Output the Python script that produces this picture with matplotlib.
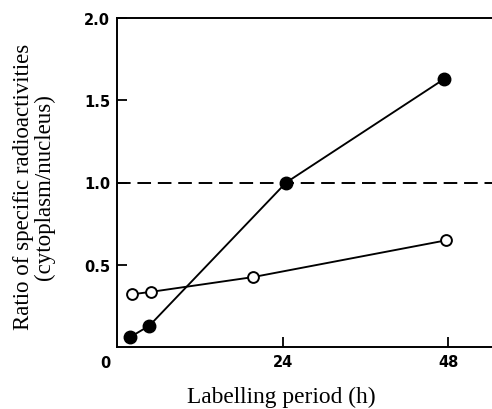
import matplotlib
matplotlib.use("Agg")
import matplotlib.pyplot as plt

# values
filled_hours = [1.9, 4.7, 24.5, 47.4]
filled_ratio = [0.06, 0.13, 1.00, 1.63]
open_hours = [2.1, 4.9, 19.7, 47.6]
open_ratio = [0.32, 0.335, 0.425, 0.648]

x_ticks = [24, 48]
y_ticks = [0.5, 1.0, 1.5, 2.0]
y_ticklabels = ["0.5", "1.0", "1.5", "2.0"]
ref_level = 1.0

fig = plt.figure(figsize=(4.92, 4.10), dpi=100)
ax = fig.add_axes([117 / 492, 62 / 410, 375 / 492, 329 / 410])

ax.axhline(ref_level, color="black", lw=1.4, ls=(0, (7, 3.5)), zorder=1)
ax.plot(open_hours, open_ratio, "-o", color="black", lw=1.35,
        markerfacecolor="white", markeredgecolor="black", markeredgewidth=1.4,
        markersize=7.8, zorder=3)
ax.plot(filled_hours, filled_ratio, "-o", color="black", lw=1.35,
        markersize=9, zorder=3)

ax.set_xlim(0, 54.3)
ax.set_ylim(0, 2.0)
ax.spines["right"].set_visible(False)
for s in ["left", "top", "bottom"]:
    ax.spines[s].set_linewidth(1.4)

ax.set_xticks(x_ticks)
ax.set_xticklabels([str(t) for t in x_ticks])
ax.set_yticks(y_ticks)
ax.set_yticklabels(y_ticklabels)
ax.tick_params(direction="in", length=7, width=1.3, pad=5,
               labelsize=10.5, right=False, top=False)
for lab in ax.get_xticklabels() + ax.get_yticklabels():
    lab.set_fontweight("bold")

ax.text(-0.032, -0.025, "0", transform=ax.transAxes, ha="center", va="top",
        fontsize=10.5, fontweight="bold")

fig.text(281 / 492, 1 - 397 / 410, "Labelling period (h)", ha="center",
         va="center", family="Liberation Serif", fontsize=16.8)
fig.text(34 / 492, 1 - 187 / 410,
         "Ratio of specific radioactivities\n(cytoplasm/nucleus)",
         ha="center", va="center", rotation=90, multialignment="center",
         family="Liberation Serif", fontsize=16.5, linespacing=0.95)

fig.savefig("out.png", dpi=100)
